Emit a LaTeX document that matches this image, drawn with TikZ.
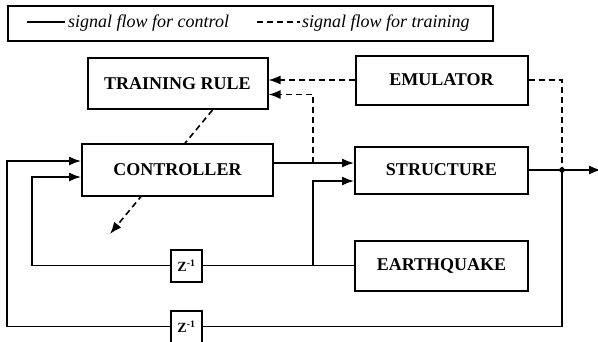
\documentclass[tikz,border=0pt]{standalone}
\usepackage{fontspec}
\setmainfont{Liberation Serif}
\usepackage{tikz}
\usetikzlibrary{positioning,arrows.meta}
\pgfdeclarelayer{background}
\pgfsetlayers{background,main}

\tikzset{
  block/.style={draw, line width=2pt, fill=white, inner sep=0pt,
    font=\bfseries\fontsize{18}{20}\selectfont},
  delay/.style={draw, line width=2pt, fill=white, inner sep=0pt,
    minimum width=31pt, minimum height=32pt,
    font=\bfseries\fontsize{14}{16}\selectfont},
  sig/.style={line width=1.6pt},
  trn/.style={line width=1.6pt, dash pattern=on 6pt off 4pt},
  >={Latex[length=12pt,width=9pt]}
}

\begin{document}
\begin{tikzpicture}[x=1pt,y=-1pt]
      \useasboundingbox (0,0) rectangle (598,341);

      % legend
      \node [draw, line width=1.6pt, minimum width=485pt, minimum height=35pt] (legend) at (250.5,23.5) {};
      \draw [sig] (27,22) -- (65,22);
      \node [anchor=base west, inner sep=0pt, font=\itshape\fontsize{18}{20}\selectfont] (lctrl) at (68,27) {signal flow for control};
      \draw [trn] (257,22) -- (300,22);
      \node [anchor=base west, inner sep=0pt, font=\itshape\fontsize{18}{20}\selectfont] (ltrain) at (302,27) {signal flow for training};

      % blocks
      \node [block, minimum width=191pt, minimum height=52pt] (ctrl) at (177.5,170) {CONTROLLER};
      \node [block, minimum width=180pt, minimum height=51pt, above=33pt of ctrl] (train) {TRAINING RULE};
      \node [block, minimum width=173pt, minimum height=47pt, right=80pt of ctrl] (struct) {STRUCTURE};
      \node [block, minimum width=172pt, minimum height=49pt, above=40pt of struct] (emu) {EMULATOR};
      \node [block, minimum width=173pt, minimum height=50pt, below=45pt of struct] (quake) {EARTHQUAKE};
      \node [delay, left=151pt of quake] (zin) {Z\textsuperscript{-1}};
      \node [delay, below=27pt of zin] (zout) {Z\textsuperscript{-1}};

      \coordinate (c1) at ([yshift=9pt]ctrl.west);
      \coordinate (c2) at ([yshift=-7pt]ctrl.west);
      \coordinate (s1) at ([yshift=7pt]struct.west);
      \coordinate (s2) at ([yshift=-11pt]struct.west);
      \coordinate (t1) at ([yshift=-11pt]train.east);
      \coordinate (tap) at ([xshift=-41pt]s1);
      \coordinate (jn) at ([xshift=33pt]struct.east);
      \coordinate (adj) at ([xshift=-67.5pt,yshift=-37pt]ctrl.south);

      % control signals
      \draw [sig, ->] (ctrl.east |- s1) -- (s1);
      \draw [sig, ->] (struct.east) -- (jn) -- ++(39pt,0);
      \fill (jn) circle (2.8pt);
      \draw [sig] (jn) |- (zout);
      \draw [sig, ->] (zout) -| ([xshift=-74pt]c1) -- (c1);
      \draw [sig] (quake) -- (zin);
      \draw [sig, ->] (zin) -| ([xshift=-49pt]c2) -- (c2);
      \draw [sig, ->] (quake.west -| tap) |- (s2);

      % training signals
      \draw [trn, ->] (tap) |- (t1);
      \draw [trn, ->] (emu.west) -- (emu.west -| train.east);
      \draw [trn] (emu.east) -| (jn);
      \begin{pgfonlayer}{background}
        \draw [trn, ->] ([xshift=35pt]train.south) -- (adj);
      \end{pgfonlayer}
    \end{tikzpicture}
\end{document}
